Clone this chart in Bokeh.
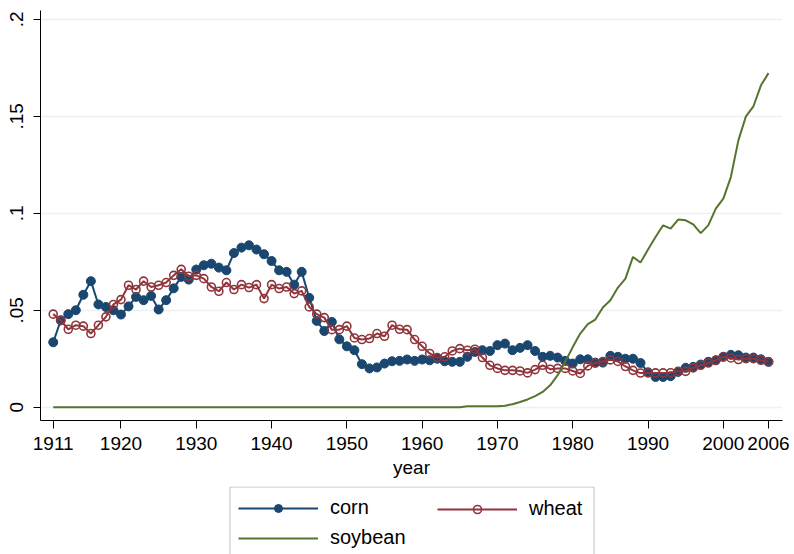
from bokeh.plotting import figure
from bokeh.models import Range1d, FixedTicker, Legend, LegendItem, BoxAnnotation
from bokeh.layouts import column
from bokeh.embed import file_html
from bokeh.resources import INLINE

years = list(range(1911, 2007))

corn = [0.0335, 0.0448, 0.048, 0.050, 0.058, 0.065, 0.053, 0.0517, 0.050, 0.0478,
        0.052, 0.0569, 0.0552, 0.0574, 0.0504, 0.0552, 0.0613, 0.0672, 0.0658, 0.071,
        0.0732, 0.074, 0.072, 0.0706, 0.0795, 0.0823, 0.0835, 0.0813, 0.0789, 0.0754,
        0.0706, 0.0698, 0.0632, 0.0698, 0.0564, 0.0445, 0.0393, 0.044, 0.035, 0.0314,
        0.0294, 0.0222, 0.020, 0.0205, 0.0225, 0.0237, 0.0239, 0.0246, 0.0239, 0.0246,
        0.0242, 0.025, 0.0237, 0.0234, 0.0234, 0.026, 0.0285, 0.0294, 0.029, 0.032,
        0.0328, 0.0294, 0.0306, 0.032, 0.029, 0.026, 0.0265, 0.0256, 0.0239, 0.0225,
        0.0247, 0.0247, 0.023, 0.023, 0.0265, 0.026, 0.025, 0.025, 0.0228, 0.018,
        0.0156, 0.0156, 0.016, 0.0182, 0.0203, 0.0208, 0.022, 0.0234, 0.0242, 0.026,
        0.027, 0.0268, 0.0256, 0.0256, 0.0247, 0.0234]

wheat = [0.048, 0.0448, 0.0402, 0.0423, 0.0418, 0.038, 0.0423, 0.0466, 0.053, 0.0555,
         0.0629, 0.0607, 0.065, 0.062, 0.0629, 0.0643, 0.068, 0.0711, 0.0675, 0.068,
         0.0663, 0.062, 0.0598, 0.0643, 0.0607, 0.0632, 0.0617, 0.0632, 0.056, 0.0632,
         0.0612, 0.062, 0.0586, 0.060, 0.0517, 0.048, 0.0462, 0.040, 0.040, 0.0418,
         0.0357, 0.0349, 0.0354, 0.038, 0.0366, 0.0423, 0.0402, 0.040, 0.0349, 0.0314,
         0.0277, 0.0256, 0.026, 0.029, 0.0302, 0.0294, 0.0299, 0.0256, 0.0216, 0.020,
         0.019, 0.019, 0.0187, 0.0177, 0.0194, 0.0216, 0.0196, 0.020, 0.020, 0.0187,
         0.0174, 0.0213, 0.0228, 0.0236, 0.0244, 0.0236, 0.021, 0.019, 0.0176, 0.0177,
         0.0177, 0.0177, 0.0178, 0.0185, 0.0185, 0.0203, 0.0216, 0.0228, 0.0242, 0.026,
         0.0254, 0.0246, 0.025, 0.025, 0.0242, 0.0234]

soybean = [0.0, 0.0, 0.0, 0.0, 0.0, 0.0, 0.0, 0.0, 0.0, 0.0,
           0.0, 0.0, 0.0, 0.0, 0.0, 0.0, 0.0, 0.0, 0.0, 0.0,
           0.0, 0.0, 0.0, 0.0, 0.0, 0.0, 0.0, 0.0, 0.0, 0.0,
           0.0, 0.0, 0.0, 0.0, 0.0, 0.0, 0.0, 0.0, 0.0, 0.0,
           0.0, 0.0, 0.0, 0.0, 0.0, 0.0, 0.0, 0.0, 0.0, 0.0,
           0.0, 0.0, 0.0, 0.0, 0.0, 0.0005, 0.0005, 0.0005, 0.0005, 0.0005,
           0.0008, 0.0015, 0.0027, 0.004, 0.0057, 0.0079, 0.0113, 0.0165, 0.0234, 0.031,
           0.038, 0.0428, 0.0452, 0.0514, 0.0552, 0.0617, 0.0663, 0.0775, 0.0746, 0.0813,
           0.0878, 0.0938, 0.0921, 0.0968, 0.0964, 0.0943, 0.0898, 0.0938, 0.1024, 0.1076,
           0.1187, 0.1376, 0.150, 0.1552, 0.166, 0.1723]

x_ticks = [1911, 1920, 1930, 1940, 1950, 1960, 1970, 1980, 1990, 2000, 2006]
y_ticks = [0, 0.05, 0.1, 0.15, 0.2]
y_tick_labels = ["0", ".05", ".1", ".15", ".2"]

NAVY = "#1a476f"
MAROON = "#90353b"
GREEN = "#55752f"
FONT = "Liberation Sans"

# ---------------- main plot ----------------
p = figure(width=794, height=486, output_backend="svg", toolbar_location=None,
           x_range=Range1d(1909.31, 2007.86), y_range=Range1d(-0.00686, 0.2046),
           min_border_left=40, min_border_right=12, min_border_top=10, min_border_bottom=66)
p.outline_line_color = None
p.background_fill_color = "white"
p.border_fill_color = "white"

p.xaxis.ticker = FixedTicker(ticks=x_ticks)
p.yaxis.ticker = FixedTicker(ticks=y_ticks)
p.yaxis.major_label_overrides = {t: l for t, l in zip(y_ticks, y_tick_labels)}
p.xaxis.major_label_overrides = {t: str(t) for t in x_ticks}
for ax in (p.xaxis, p.yaxis):
    ax.axis_line_color = "black"
    ax.axis_line_width = 1
    ax.major_tick_line_color = "black"
    ax.major_tick_in = 0
    ax.minor_tick_line_color = None
    ax.major_label_text_font = FONT
    ax.major_label_text_font_size = "19px"
    ax.major_label_text_color = "black"
p.xaxis.major_tick_out = 8
p.yaxis.major_tick_out = 7
p.xaxis.major_label_standoff = 8
p.yaxis.major_label_standoff = 10
p.yaxis.major_label_orientation = "vertical"
p.xaxis.axis_label = "year"
p.xaxis.axis_label_text_font = FONT
p.xaxis.axis_label_text_font_size = "19px"
p.xaxis.axis_label_text_font_style = "normal"
p.xaxis.axis_label_text_color = "black"
p.xaxis.axis_label_standoff = 4

p.xgrid.grid_line_color = None
p.ygrid.grid_line_color = "#eaf2f3"
p.ygrid.grid_line_width = 1.5

p.line(years, corn, line_color=NAVY, line_width=2)
p.scatter(years, corn, marker="circle", size=9, fill_color=NAVY, line_color=NAVY)
p.line(years, wheat, line_color=MAROON, line_width=2)
p.scatter(years, wheat, marker="circle", size=8, fill_color=None,
          line_color=MAROON, line_width=1.6)
p.line(years, soybean, line_color=GREEN, line_width=2)

# ---------------- legend strip (frame aligned with main plot) ----------------
q = figure(width=794, height=68, output_backend="svg", toolbar_location=None,
           x_range=Range1d(40, 782), y_range=Range1d(0, 68),
           min_border_left=40, min_border_right=12, min_border_top=0, min_border_bottom=0)
q.axis.visible = False
q.grid.visible = False
q.outline_line_color = None
q.background_fill_color = "white"
q.border_fill_color = "white"

# series renderers for the legend keys (their data lie outside this strip's range)
qcl = q.line(years, corn, line_color=NAVY, line_width=2)
qcs = q.scatter(years, corn, marker="circle", size=8, fill_color=NAVY, line_color=NAVY)
qwl = q.line(years, wheat, line_color=MAROON, line_width=2)
qws = q.scatter(years, wheat, marker="circle", size=7, fill_color=None,
                line_color=MAROON, line_width=1.6)
qsl = q.line(years, soybean, line_color=GREEN, line_width=2)

q.add_layout(BoxAnnotation(left=229.5, right=593.5, bottom=-20, top=67.5,
                           fill_alpha=0, line_color="#333333", line_width=1))


def style(lg):
    lg.label_text_font = FONT
    lg.label_text_font_size = "20px"
    lg.label_text_color = "black"
    lg.glyph_width = 80
    lg.glyph_height = 20
    lg.label_height = 20
    lg.label_standoff = 12
    lg.spacing = 7
    lg.padding = 0
    lg.margin = 0
    lg.border_line_color = None
    lg.background_fill_alpha = 0


leg_a = Legend(items=[LegendItem(label="corn", renderers=[qcl, qcs]),
                      LegendItem(label="soybean", renderers=[qsl])],
               location=(198, 5))
leg_b = Legend(items=[LegendItem(label="wheat", renderers=[qwl, qws])],
               location=(397, 34))
style(leg_a)
style(leg_b)
q.add_layout(leg_a, "center")
q.add_layout(leg_b, "center")

layout = column(p, q, spacing=0)
open("out.html", "w").write(file_html(layout, INLINE))
